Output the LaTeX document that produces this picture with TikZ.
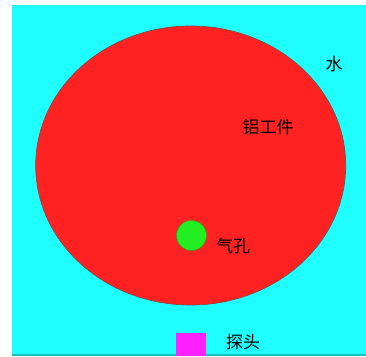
\documentclass[tikz,border=0pt]{standalone}
\usepackage{fontspec}
\usetikzlibrary{shapes.geometric}
\newfontfamily\cjk{Noto Sans CJK SC}
\definecolor{water}{RGB}{32,255,255}
\definecolor{alu}{RGB}{255,34,34}
\definecolor{pore}{RGB}{34,238,34}
\definecolor{probe}{RGB}{255,34,255}
\definecolor{edge}{RGB}{140,70,70}
\tikzset{lbl/.style={font=\cjk\fontsize{17}{17}\selectfont, inner sep=0pt, text=black}}
\begin{document}
\begin{tikzpicture}[x=1pt,y=-1pt]
\useasboundingbox (0,0) rectangle (366,356);
\fill[white] (0,0) rectangle (366,356);
\fill[water] (12,5) rectangle (366,354);
\fill[black!25!water] (12,354) rectangle (366,356);
\node[ellipse, draw=edge, line width=0.7pt, fill=alu, minimum width=310, minimum height=279, inner sep=0pt] (work) at (190.7,165.5) {};
\node[circle, fill=pore, draw=pore!70!black, line width=0.4pt, minimum size=30, inner sep=0pt] (hole) at (191.5,235.5) {};
\fill[probe] (176,333) rectangle (206,356);
\node[lbl] (w) at (334,64) {水};
\node[lbl] (a) at (268,127) {铝工件};
\node[lbl] (q) at (233,246) {气孔};
\node[lbl] (t) at (243,342) {探头};
\end{tikzpicture}
\end{document}
